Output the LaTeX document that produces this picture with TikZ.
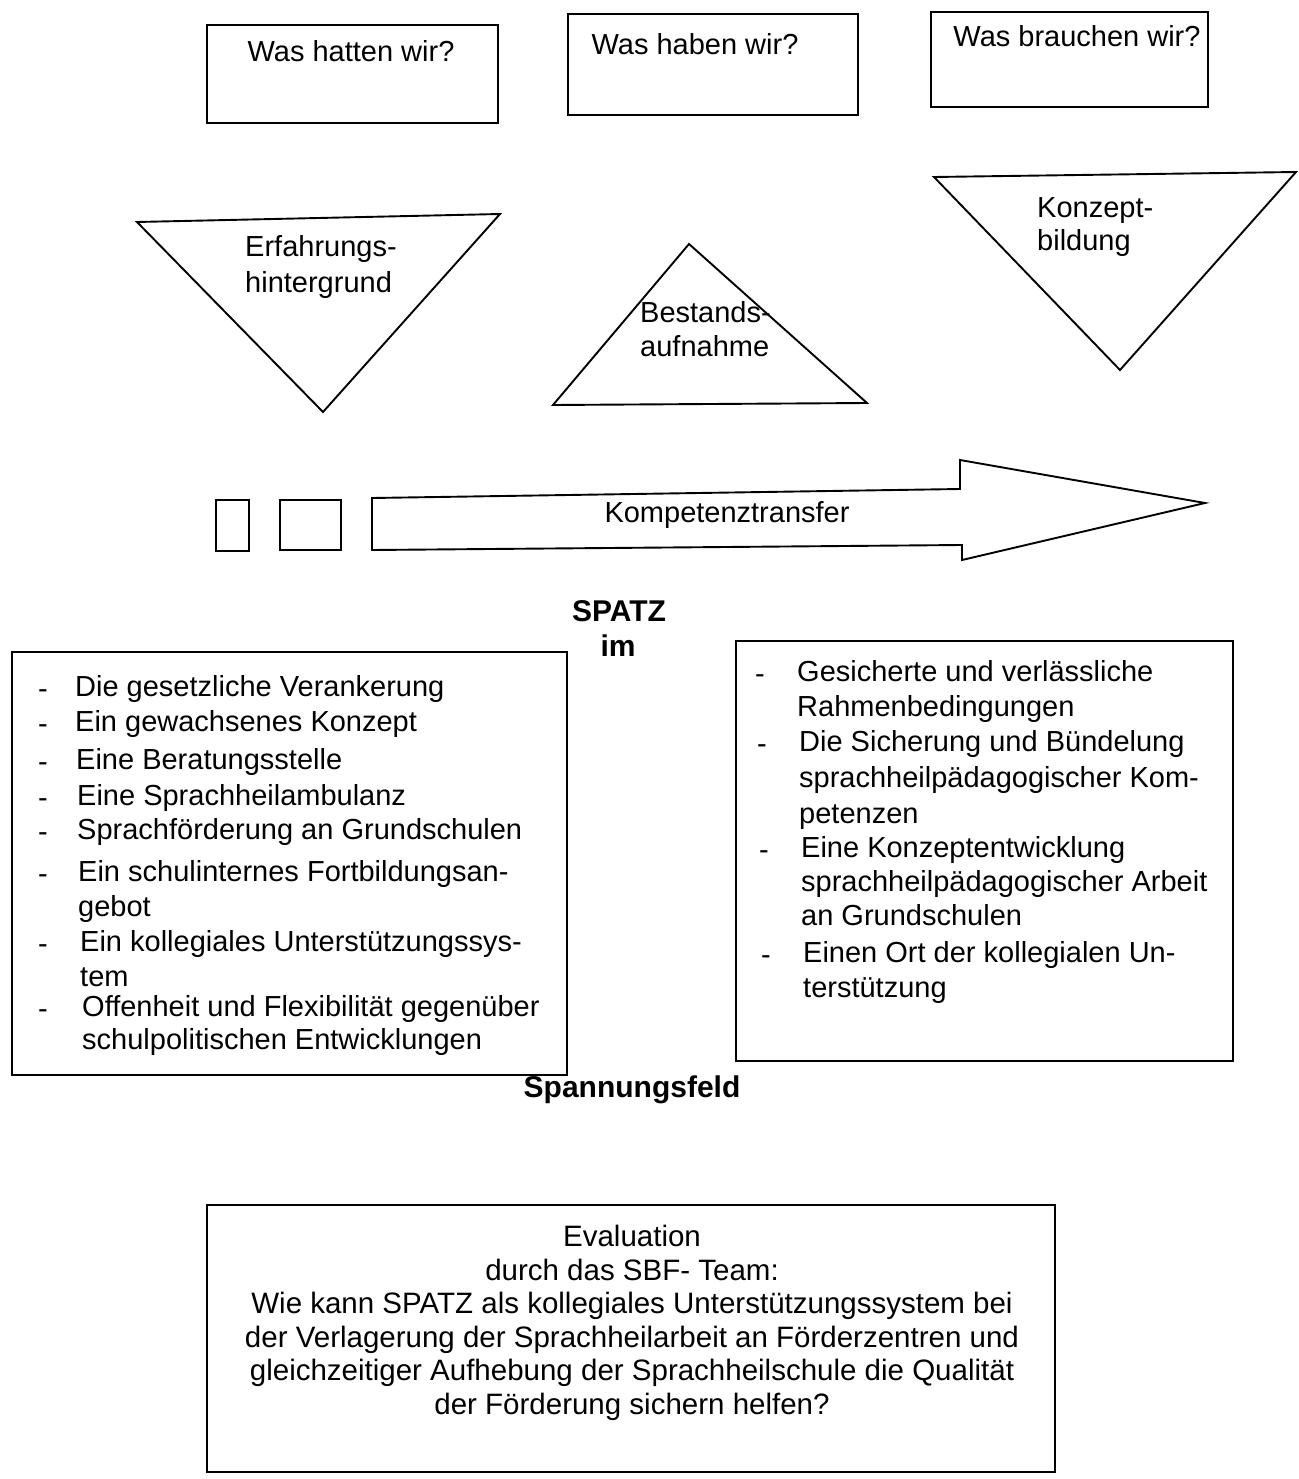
\documentclass[tikz,border=0pt]{standalone}
\usepackage{fontspec}
\setmainfont{Liberation Sans}
\begin{document}
\begin{tikzpicture}[x=1pt,y=-1pt,
  box/.style={draw,line width=1.9pt,inner sep=0pt},
  txt/.style={inner sep=0pt,font=\fontsize{29}{35}\selectfont},
  btxt/.style={inner sep=0pt,font=\fontsize{30}{35}\selectfont\bfseries},
  etxt/.style={inner sep=0pt,font=\fontsize{29.5}{33.5}\selectfont},
  shp/.style={draw,line width=1.9pt,line join=miter}]
\useasboundingbox (0,0) rectangle (1298,1479);
% top boxes
\node[box,minimum width=291,minimum height=98] (q1) at (352.5,74) {};
\node[box,minimum width=290,minimum height=101] (q2) at (713,64.5) {};
\node[box,minimum width=277,minimum height=95] (q3) at (1069.5,59.5) {};
\node[txt,anchor=base] (q1t) at (351,62) {Was hatten wir?};
\node[txt,anchor=base] (q2t) at (695,55) {Was haben wir?};
\node[txt,anchor=base] (q3t) at (1077,47) {Was brauchen wir?};
% triangles
\coordinate (t1a) at (137,222); \coordinate (t1b) at (500,214); \coordinate (t1c) at (323,412);
\draw[shp] (t1a) -- (t1b) -- (t1c) -- cycle;
\node[txt,anchor=base west,align=left] (t1t) at (245,257) {Erfahrungs-};
\node[txt,anchor=base west,align=left] (t1u) at (245,292) {hintergrund};
\coordinate (t2a) at (553,405); \coordinate (t2b) at (867,403); \coordinate (t2c) at (689,244);
\draw[shp] (t2a) -- (t2b) -- (t2c) -- cycle;
\node[txt,anchor=base west] (t2t) at (640,322) {Bestands-};
\node[txt,anchor=base west] (t2u) at (640,356) {aufnahme};
\coordinate (t3a) at (934,177); \coordinate (t3b) at (1296,172); \coordinate (t3c) at (1120,370);
\draw[shp] (t3a) -- (t3b) -- (t3c) -- cycle;
\node[txt,anchor=base west] (t3t) at (1037,218) {Konzept-};
\node[txt,anchor=base west] (t3u) at (1037,251) {bildung};
% small boxes and arrow
\node[box,minimum width=33,minimum height=51] (s1) at (232.5,525.5) {};
\node[box,minimum width=61,minimum height=50] (s2) at (310.5,525) {};
\coordinate (a1) at (372,498); \coordinate (a2) at (960,489); \coordinate (a3) at (960,460);
\coordinate (a4) at (1205,503); \coordinate (a5) at (962,560); \coordinate (a6) at (962,545);
\coordinate (a7) at (372,550);
\draw[shp] (a1) -- (a2) -- (a3) -- (a4) -- (a5) -- (a6) -- (a7) -- cycle;
\node[txt,anchor=base] (ka) at (727,522) {Kompetenztransfer};
% middle labels
\node[btxt,anchor=base] (sp) at (619,621) {SPATZ};
\node[btxt,anchor=base] (im) at (618,656) {im};
\node[btxt,anchor=base] (sf) at (632,1097) {Spannungsfeld};
% left box
\node[box,minimum width=555,minimum height=423] (lb) at (289.5,863.5) {};
\foreach \n/\x/\y/\t in {1/75/687/Die gesetzliche Verankerung,
  2/75/722/Ein gewachsenes Konzept,
  3/76/760/Eine Beratungsstelle,
  4/77/796/Eine Sprachheilambulanz,
  5/77/830/Sprachförderung an Grundschulen,
  6/78/872/Ein schulinternes Fortbildungsan-,
  7/78/907/gebot,
  8/80/942/Ein kollegiales Unterstützungssys-,
  9/80/977/tem,
  10/82/1007/Offenheit und Flexibilität gegenüber,
  11/82/1040/schulpolitischen Entwicklungen}
  \node[txt,anchor=base west] (L\n) at (\x,\y+9) {\t};
\foreach \n/\y in {1/687,2/722,3/760,4/796,5/830,6/872,8/942,10/1007}
  \node[txt,anchor=base west] (LD\n) at (38,\y+11) {-};
% right box
\node[box,minimum width=497,minimum height=420] (rb) at (984.5,851) {};
\foreach \n/\x/\y/\t in {1/797/672/Gesicherte und verlässliche,
  2/797/707/Rahmenbedingungen,
  3/799/742/Die Sicherung und Bündelung,
  4/799/778/sprachheilpädagogischer Kom-,
  5/799/814/petenzen,
  6/801/848/Eine Konzeptentwicklung,
  7/801/882/sprachheilpädagogischer Arbeit,
  8/801/916/an Grundschulen,
  9/803/953/Einen Ort der kollegialen Un-,
  10/803/988/terstützung}
  \node[txt,anchor=base west] (R\n) at (\x,\y+9) {\t};
\foreach \n/\x/\y in {1/755/672,3/757/742,6/759/848,9/761/953}
  \node[txt,anchor=base west] (RD\n) at (\x,\y+11) {-};
% bottom box
\node[box,minimum width=848,minimum height=267] (eb) at (631,1338.5) {};
\node[etxt,align=center,anchor=north] (et) at (632,1225) {Evaluation\\durch das SBF- Team:\\Wie kann SPATZ als kollegiales Unterstützungssystem bei\\der Verlagerung der Sprachheilarbeit an Förderzentren und\\gleichzeitiger Aufhebung der Sprachheilschule die Qualität\\der Förderung sichern helfen?};
\end{tikzpicture}
\end{document}
